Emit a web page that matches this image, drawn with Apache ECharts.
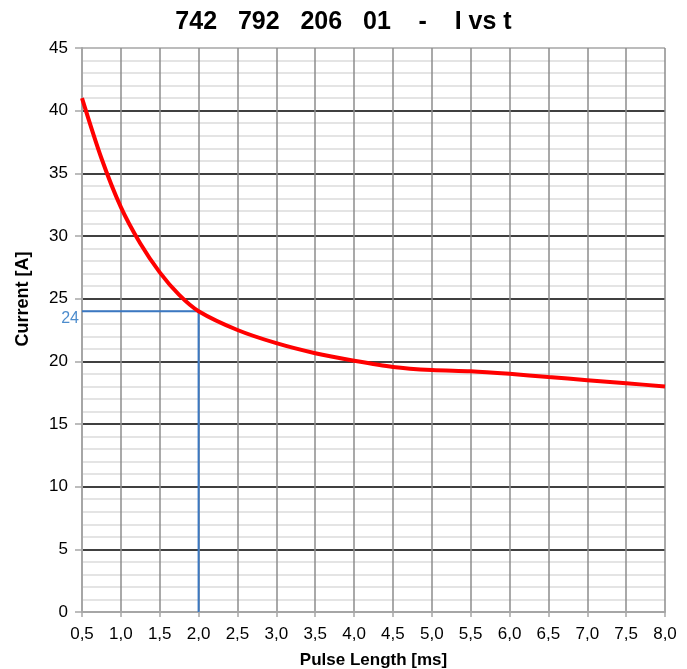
<!DOCTYPE html>
<html>
<head>
<meta charset="utf-8">
<script src="https://cdn.jsdelivr.net/npm/echarts@6/dist/echarts.min.js"></script>
<style>
html,body{margin:0;padding:0;background:#fff;}
#chart{width:687px;height:669px;}
</style>
</head>
<body>
<div id="chart"></div>
<script>
// Data
const titleText = '742   792   206   01    -    I vs t';
const pulseLength = [0.5, 0.75, 1.0, 1.25, 1.5, 1.75, 2.0, 2.5, 3.0, 3.5, 4.0, 4.5, 5.0, 5.5, 6.0, 6.5, 7.0, 7.5, 8.0];
const current = [41.0, 36.2, 32.3, 29.4, 27.1, 25.3, 24.0, 22.5, 21.45, 20.65, 20.05, 19.55, 19.3, 19.2, 19.0, 18.75, 18.5, 18.25, 18.0];
const markerX = [0.5, 2.0, 2.0];
const markerY = [24, 24, 0];
const markerLabel = '24';

const chart = echarts.init(document.getElementById('chart'), null, {renderer: 'canvas'});
const FONT = 'Liberation Sans, Arial, sans-serif';

const ySplitColors = ['#a6a6a6', '#000', '#000', '#000', '#000', '#000', '#000', '#000', '#000', '#a6a6a6'];

chart.setOption({
  animation: false,
  backgroundColor: '#fff',
  title: {
    text: titleText,
    left: 'center',
    top: 5,
    textStyle: {fontFamily: FONT, fontSize: 25, fontWeight: 'bold', color: '#000'}
  },
  grid: {left: 82, right: 22, top: 48, bottom: 57, outerBoundsMode: 'none', containLabel: false},
  xAxis: {
    type: 'value',
    min: 0.5, max: 8.0, interval: 0.5,
    name: 'Pulse Length [ms]',
    nameLocation: 'middle',
    nameGap: 40,
    nameTextStyle: {fontFamily: FONT, fontSize: 17, fontWeight: 'bold', color: '#000'},
    axisLine: {show: true, lineStyle: {color: '#a6a6a6', width: 2}},
    axisTick: {show: true, length: 5, lineStyle: {color: '#a6a6a6', width: 1.5}},
    axisLabel: {fontFamily: FONT, fontSize: 17, color: '#000', margin: 14,
      formatter: v => v.toFixed(1).replace('.', ',')},
    splitLine: {show: true, lineStyle: {color: '#8c8c8c', width: 1.5}}
  },
  yAxis: {
    type: 'value',
    min: 0, max: 45, interval: 5,
    name: 'Current [A]',
    nameLocation: 'middle',
    nameGap: 50,
    nameTextStyle: {fontFamily: FONT, fontSize: 18, fontWeight: 'bold', color: '#000', padding: [0, 0, 0, 62]},
    axisLine: {show: true, lineStyle: {color: '#a6a6a6', width: 2}},
    axisTick: {show: true, length: 7, lineStyle: {color: '#a6a6a6', width: 1.5}},
    axisLabel: {fontFamily: FONT, fontSize: 17, color: '#000', margin: 14},
    splitLine: {show: true, lineStyle: {color: ySplitColors, width: 1.5}},
    minorTick: {show: false, splitNumber: 5},
    minorSplitLine: {show: true, lineStyle: {color: '#dcdcdc', width: 1.5}}
  },
  series: [
    {
      type: 'line',
      data: markerX.map((x, i) => [x, markerY[i]]),
      symbol: 'none',
      lineStyle: {color: '#3b78c2', width: 2},
      z: 3
    },
    {
      type: 'scatter',
      data: [[markerX[0], markerY[0]]],
      symbolSize: 0,
      label: {show: true, position: 'left', distance: 3, offset: [0, 7],
        formatter: markerLabel, fontFamily: FONT, fontSize: 16, color: '#1f6fc0'},
      z: 4
    },
    {
      type: 'line',
      data: pulseLength.map((x, i) => [x, current[i]]),
      smooth: 0.3,
      symbol: 'none',
      lineStyle: {color: '#ff0000', width: 4},
      z: 5
    }
  ]
});
</script>
</body>
</html>
